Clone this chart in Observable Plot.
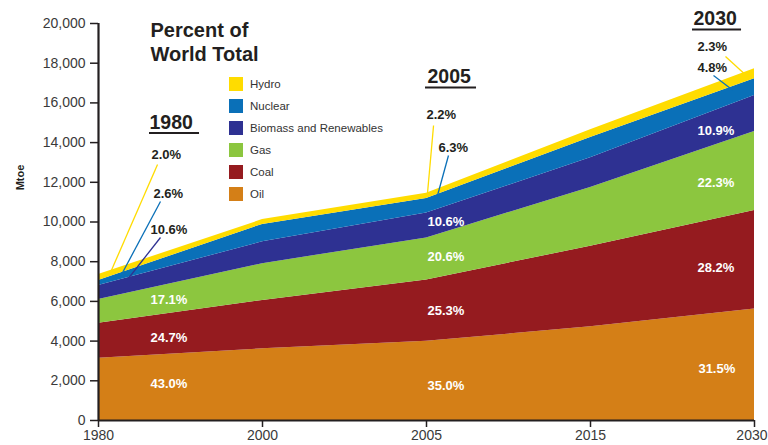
<!DOCTYPE html>
<html><head><meta charset="utf-8">
<script src="https://cdn.jsdelivr.net/npm/d3@7"></script>
<script src="https://cdn.jsdelivr.net/npm/@observablehq/plot@0.6"></script>
<style>
body{margin:0;background:#fff;font-family:"Liberation Sans",Arial,sans-serif;}
#wrap{position:relative;width:768px;height:445px;overflow:hidden;}
.legend{position:absolute;left:229px;top:73px;}
.legend .row{display:flex;align-items:center;height:22px;font-size:11.5px;color:#333;}
.legend .sw{width:14px;height:14px;margin-right:7px;}
</style></head><body><div id="wrap"></div>
<script>
// ---- data ----
const years = [1980, 2000, 2005, 2015, 2030];
const sources = ["Oil", "Coal", "Gas", "Biomass and Renewables", "Nuclear", "Hydro"];
const colors = ["#d47f17", "#951b1f", "#8cc63f", "#2e3192", "#0a70b8", "#ffdc00"];
const oil     = [3140, 3610, 3990, 4720, 5620];
const coal    = [1760, 2440, 3090, 4060, 4960];
const gas     = [1200, 1850, 2120, 2960, 3980];
const biomass = [700, 1100, 1250, 1500, 1810];
const nuclear = [250, 880, 730, 1020, 850];
const hydro   = [300, 240, 270, 390, 500];
const yTicks = [0, 2000, 4000, 6000, 8000, 10000, 12000, 14000, 16000, 18000, 20000];
const share1980 = [43.0, 24.7, 17.1, 10.6, 2.6, 2.0];
const share2005 = [35.0, 25.3, 20.6, 10.6, 6.3, 2.2];
const share2030 = [31.5, 28.2, 22.3, 10.9, 4.8, 2.3];
const titleText = "Percent of\nWorld Total";

// ---- annotation layout (x in year-index units, y in Mtoe) ----
const labelLayout = [
  {shares: share1980, x: [0.317, 0.317, 0.317, 0.317, 0.335, 0.323], y: [1864, 4181, 6096, 9622, 11436, 13401], dark: [0,0,0,1,1,1]},
  {shares: share2005, x: [2.006, 2.006, 2.006, 2.006, 2.073, 2.0], y: [1763, 5542, 8262, 10025, 13753, 15416], dark: [0,0,0,0,1,1]},
  {shares: share2030, x: [3.658, 3.652, 3.652, 3.652, 3.652, 3.652], y: [2620, 7708, 11990, 14610, 17783, 18841], dark: [0,0,0,0,1,1]}
];
const headers = [
  {text: "1980", x: 0.311, y: 15013, ux1: 0.311, ux2: 0.616, uy: 14484},
  {text: "2005", x: 2.006, y: 17330, ux1: 1.994, ux2: 2.305, uy: 16776},
  {text: "2030", x: 3.628, y: 20252, ux1: 3.622, ux2: 3.921, uy: 19698}
];
const leaders = [
  {source: "Hydro", x1: 0.360, y1: 12897, x2: 0.073, y2: 7456},
  {source: "Nuclear", x1: 0.378, y1: 11033, x2: 0.134, y2: 7254},
  {source: "Biomass and Renewables", x1: 0.378, y1: 9219, x2: 0.177, y2: 7103},
  {source: "Hydro", x1: 2.043, y1: 14862, x2: 2.006, y2: 11436},
  {source: "Nuclear", x1: 2.134, y1: 13350, x2: 2.067, y2: 11335},
  {source: "Hydro", x1: 3.823, y1: 18338, x2: 3.945, y2: 17420},
  {source: "Nuclear", x1: 3.750, y1: 17380, x2: 3.866, y2: 16650}
];

// ---- build tables ----
const series = [oil, coal, gas, biomass, nuclear, hydro];
const table = sources.flatMap((s, k) => years.map((yr, i) => ({source: s, i, value: series[k][i]})));
const labels = labelLayout.flatMap(g => g.shares.map((v, k) => ({
  text: v.toFixed(1) + "%", x: g.x[k], y: g.y[k], dark: g.dark[k]
})));
const xIdx = years.map((y, i) => i);
const last = years.length - 1;

const ink = "#231f20";
const axisText = "#3a3a3a";
const plot = Plot.plot({
  width: 768, height: 445,
  marginLeft: 98, marginRight: 14, marginTop: 23, marginBottom: 25,
  style: {fontFamily: "Liberation Sans, Arial, sans-serif", background: "#fff", overflow: "visible"},
  x: {domain: [0, last]},
  y: {domain: [0, 20000]},
  color: {domain: sources, range: colors},
  marks: [
    Plot.areaY(table, {x: "i", y: "value", fill: "source"}),
    Plot.axisY({ticks: yTicks, tickFormat: d3.format(","), tickSize: 8, tickPadding: 5, fontSize: 14, label: null, stroke: ink, strokeWidth: 1.5, fill: axisText}),
    Plot.axisX({ticks: xIdx, tickFormat: () => "", tickSize: 7, label: null, stroke: ink, strokeWidth: 1.5}),
    Plot.text(xIdx.filter(i => i < last), {x: d => d, y: () => 0, dy: 10, lineAnchor: "top", text: d => String(years[d]), fontSize: 14, fill: axisText, textAnchor: "middle"}),
    Plot.text([last], {x: d => d, y: () => 0, dy: 10, dx: 13, lineAnchor: "top", text: d => String(years[d]), fontSize: 14, fill: axisText, textAnchor: "end"}),
    Plot.ruleY([0], {stroke: ink, strokeWidth: 2.2}),
    Plot.ruleX([0], {y1: 0, y2: 20000, stroke: ink, strokeWidth: 2.2}),
    Plot.link(leaders, {x1: "x1", y1: "y1", x2: "x2", y2: "y2", stroke: "source", strokeWidth: 1.3}),
    Plot.text(labels.filter(d => !d.dark), {x: "x", y: "y", text: "text", fill: "white", textAnchor: "start", fontSize: 13, fontWeight: "bold"}),
    Plot.text(labels.filter(d => d.dark), {x: "x", y: "y", text: "text", fill: ink, stroke: "white", strokeWidth: 2, paintOrder: "stroke", textAnchor: "start", fontSize: 13, fontWeight: "bold"}),
    Plot.text(headers, {x: "x", y: "y", text: "text", fill: ink, textAnchor: "start", fontSize: 19.5, fontWeight: "bold", style: "letter-spacing:0.6px"}),
    Plot.ruleY(headers, {x1: "ux1", x2: "ux2", y: "uy", stroke: ink, strokeWidth: 2}),
    Plot.text([titleText], {frameAnchor: "top-left", dx: 52, dy: -4, textAnchor: "start", lineAnchor: "top", lineHeight: 1.2, fontSize: 20, fontWeight: "bold", fill: ink}),
    Plot.text(["Mtoe"], {frameAnchor: "top-left", dx: -82, dy: 154, rotate: -90, textAnchor: "middle", fontSize: 11, fontWeight: "bold", fill: ink})
  ]
});
const wrap = document.getElementById("wrap");
wrap.appendChild(plot);

// ---- legend ----
const legend = document.createElement("div");
legend.className = "legend";
sources.map((s, k) => ({s, c: colors[k]})).reverse().forEach(({s, c}) => {
  const row = document.createElement("div");
  row.className = "row";
  const sw = document.createElement("span");
  sw.className = "sw";
  sw.style.background = c;
  const t = document.createElement("span");
  t.textContent = s;
  row.appendChild(sw); row.appendChild(t);
  legend.appendChild(row);
});
wrap.appendChild(legend);
</script></body></html>
